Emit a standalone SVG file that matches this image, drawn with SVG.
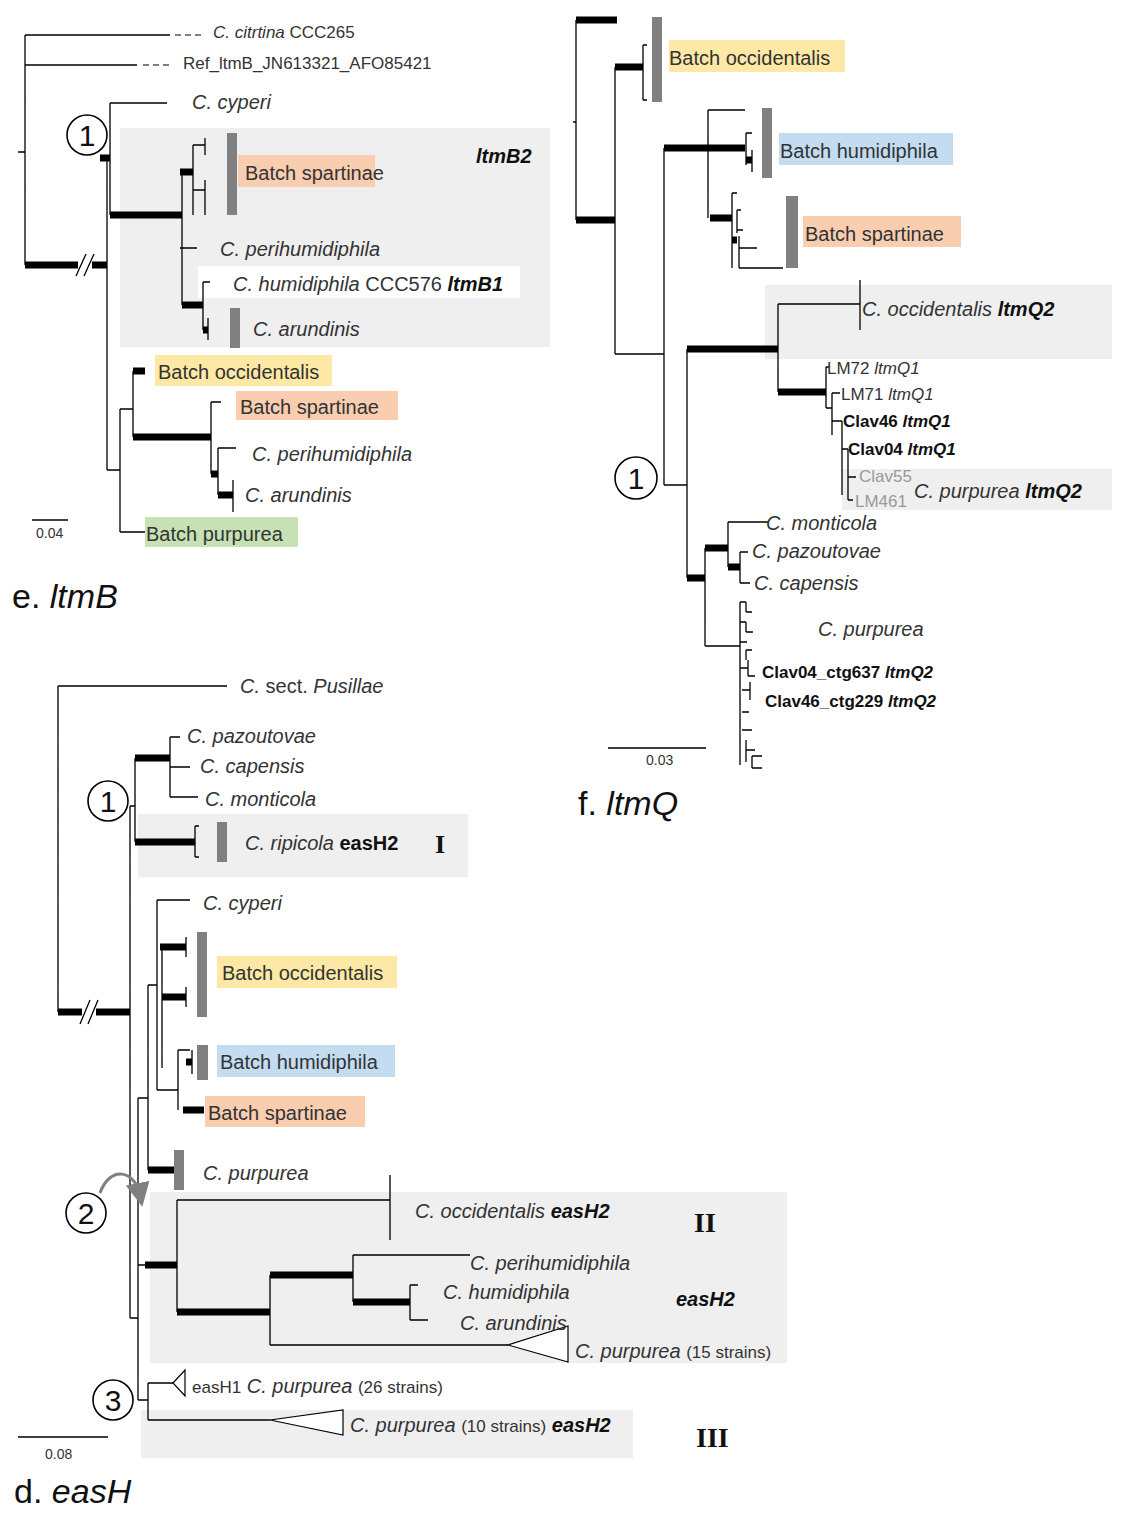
<svg xmlns="http://www.w3.org/2000/svg" width="1124" height="1516" viewBox="0 0 1124 1516">
<style>
text{font-family:"Liberation Sans",Arial,sans-serif;fill:#333}
.t{font-size:20px}
.s{font-size:17px}
.i{font-style:italic}
.b{font-weight:bold;fill:#111}
.g{fill:#999}
.ln{stroke:#000;stroke-width:1.3;fill:none}
.th{stroke:#000;stroke-width:7;fill:none}
.bar{fill:#808080}
.box{fill:#efefef}
.or{fill:#f9cdb0}.ye{fill:#fde9a5}.bl{fill:#c4dcf0}.gr{fill:#c6e2b5}
.dash{stroke:#000;stroke-width:1.2;stroke-dasharray:6 4}
.circ{fill:#fff;stroke:#000;stroke-width:1.6}
.cn{font-size:30px;fill:#111;text-anchor:middle}
.ttl{font-size:34px;fill:#111}
.tri{fill:#fff;stroke:#000;stroke-width:1.2}
</style>
<defs>
<marker id="ah" markerWidth="8" markerHeight="8" refX="4" refY="4" orient="auto"><path d="M0,0 L8,4 L0,8 Z" fill="#808080"/></marker>
</defs>

<!-- backgrounds -->
<g id="backgrounds">
<rect class="box" x="120" y="128" width="430" height="219"/>
<rect fill="#fff" x="198" y="266" width="322" height="32"/>
<rect class="or" x="238" y="155" width="137" height="32"/>
<rect class="ye" x="155" y="355" width="177" height="31"/>
<rect class="or" x="236" y="391" width="162" height="29"/>
<rect class="gr" x="145" y="517" width="153" height="30"/>
<rect class="ye" x="669" y="40" width="176" height="32"/>
<rect class="bl" x="779" y="133" width="174" height="32"/>
<rect class="or" x="803" y="216" width="158" height="31"/>
<rect class="box" x="765" y="285" width="347" height="74"/>
<rect class="box" x="842" y="469" width="270" height="41"/>
<rect class="box" x="138" y="814" width="330" height="63"/>
<rect class="ye" x="217" y="956" width="180" height="32"/>
<rect class="bl" x="217" y="1045" width="178" height="32"/>
<rect class="or" x="205" y="1096" width="160" height="31"/>
<rect class="box" x="150" y="1192" width="637" height="171"/>
<rect class="box" x="141" y="1410" width="492" height="48"/>
</g>

<g id="connectors">
<!-- e ltmB -->
<path class="ln" d="M18,152H25 M25,35V265 M25,35H170 M25,65H137 M107,158V470 M110,103V215 M110,103H167 M182,172V305 M180,248H197 M193,145V215 M193,145H205 M205,138V155 M193,190H205 M205,180V215 M203,282V330 M203,282H210 M208,318V340 M107,470H120 M120,409V532 M120,409H133 M133,371V437 M211,402V474 M211,402H221 M218,448V495 M218,448H236 M233,480V512 M120,532H145"/>
<path class="dash" d="M175,35H205 M143,65H170"/>
<path class="th" d="M25,265H78 M92,265H107 M100,158H110 M110,215H182 M180,172H193 M182,305H203 M203,330H208 M133,371H145 M133,437H211 M211,474H218 M218,495H233"/>
<path class="ln" d="M76,276L86,254 M84,276L94,254"/>
<!-- f ltmQ -->
<path class="ln" d="M573,122H576 M576,20V220 M615,67V354 M643,45V100 M643,45H647 M643,100H647 M615,354H664 M664,148V485 M708,110V218 M708,110H745 M746,133V165 M746,133H752 M752,150V172 M732,193V268 M732,193H737 M737,210V233 M737,210H741 M737,230H743 M739,248H757 M739,268H783 M739,236V268 M664,485H687 M687,349V578 M778,304V392 M778,304H860 M860,280V330 M826,367V408 M826,367H829 M826,408H832 M832,393V435 M832,393H840 M832,421H842 M842,421V495 M842,449H848 M848,449V500 M848,477H856 M848,500H853 M705,548V646 M728,522V567 M728,522H768 M740,552V583 M740,552H748 M740,583H750 M705,646H740 M740,602V765 M740,602H746 M746,602V612 M746,612H752 M740,622H746 M746,622V632 M746,632H753 M740,642H747 M746,650V660 M746,650H752 M740,668H748 M748,660V676 M748,676H755 M742,690H750 M750,682V700 M742,712H749 M742,730H752 M746,740V762 M746,750H755 M752,756V768 M752,756H762 M752,768H762"/>
<path class="th" d="M576,20H617 M576,220H615 M615,67H643 M664,148H745 M746,160H752 M710,218H732 M732,240H737 M687,349H778 M778,392H826 M687,578H705 M705,548H728 M728,567H740"/>
<!-- d easH -->
<path class="ln" d="M58,686V1012 M58,686H227 M130,806V1318 M130,806H135 M135,758V842 M170,737V797 M170,737H180 M170,767H190 M170,797H198 M195,826V857 M195,826H199 M195,857H199 M130,1318H138 M138,1098V1400 M138,1098H148 M148,985V1170 M148,985H157 M157,900V1090 M157,900H190 M162,947V1068 M186,937V957 M186,987V1007 M157,1090H178 M178,1050V1110 M178,1050H190 M192,1050V1074 M138,1265H145 M177,1200V1312 M177,1200H390 M390,1175V1240 M270,1275V1345 M353,1255V1302 M353,1255H470 M410,1285V1320 M410,1285H418 M410,1320H428 M270,1345H508 M148,1383V1420 M148,1383H173 M138,1400H148 M148,1420H270"/>
<path class="th" d="M58,1012H82 M96,1012H130 M135,758H170 M135,842H195 M160,947H186 M162,997H186 M186,1062H192 M183,1110H204 M148,1170H175 M145,1265H177 M177,1312H270 M270,1275H353 M353,1302H410"/>
<path class="ln" d="M80,1024L90,1000 M88,1024L98,1000"/>
<path d="M100,1193 C110,1165 135,1170 140,1195" stroke="#808080" stroke-width="3" fill="none" marker-end="url(#ah)"/>
<!-- scale bars -->
<path class="ln" d="M32,520H68 M608,748H706 M18,1437H108"/>
</g>

<g id="bars">
<rect class="bar" x="227" y="133" width="10" height="82"/>
<rect class="bar" x="230" y="308" width="10" height="40"/>
<rect class="bar" x="652" y="17" width="10" height="85"/>
<rect class="bar" x="762" y="108" width="10" height="70"/>
<rect class="bar" x="786" y="196" width="12" height="72"/>
<rect class="bar" x="217" y="822" width="10" height="40"/>
<rect class="bar" x="197" y="932" width="10" height="85"/>
<rect class="bar" x="197" y="1045" width="11" height="35"/>
<rect class="bar" x="174" y="1150" width="10" height="40"/>
<path class="tri" d="M508,1345L568,1326V1362Z"/>
<path class="tri" d="M173,1383L185,1370V1396Z"/>
<path class="tri" d="M270,1420L343,1410V1435Z"/>
</g>

<g id="circles">
<circle class="circ" cx="87" cy="135" r="20"/><text class="cn" x="87" y="146">1</text>
<circle class="circ" cx="636" cy="478" r="21"/><text class="cn" x="636" y="489">1</text>
<circle class="circ" cx="108" cy="801" r="20"/><text class="cn" x="108" y="812">1</text>
<circle class="circ" cx="86" cy="1213" r="20"/><text class="cn" x="86" y="1224">2</text>
<circle class="circ" cx="113" cy="1400" r="20"/><text class="cn" x="113" y="1411">3</text>
</g>

<g id="labels-e">
<text class="s" x="213" y="38"><tspan class="i">C. citrtina</tspan> CCC265</text>
<text class="s" x="183" y="69">Ref_ltmB_JN613321_AFO85421</text>
<text class="t i" x="192" y="109">C. cyperi</text>
<text class="t b i" x="476" y="163">ltmB2</text>
<text class="t" x="245" y="180">Batch spartinae</text>
<text class="t i" x="220" y="256">C. perihumidiphila</text>
<text class="t" x="233" y="291"><tspan class="i">C. humidiphila</tspan> CCC576 <tspan class="b i">ltmB1</tspan></text>
<text class="t i" x="253" y="336">C. arundinis</text>
<text class="t" x="158" y="379">Batch occidentalis</text>
<text class="t" x="240" y="414">Batch spartinae</text>
<text class="t i" x="252" y="461">C. perihumidiphila</text>
<text class="t i" x="245" y="502">C. arundinis</text>
<text class="t" x="146" y="541">Batch purpurea</text>
<text style="font-size:14px" x="36" y="538">0.04</text>
<text class="ttl" x="12" y="608">e. <tspan class="i">ltmB</tspan></text>
</g>

<g id="labels-f">
<text class="t" x="669" y="65">Batch occidentalis</text>
<text class="t" x="780" y="158">Batch humidiphila</text>
<text class="t" x="805" y="241">Batch spartinae</text>
<text class="t" x="862" y="316"><tspan class="i">C. occidentalis</tspan> <tspan class="b i">ltmQ2</tspan></text>
<text class="s" x="827" y="374">LM72 <tspan class="i">ltmQ1</tspan></text>
<text class="s" x="841" y="400">LM71 <tspan class="i">ltmQ1</tspan></text>
<text class="s b" x="843" y="427">Clav46 <tspan class="i">ltmQ1</tspan></text>
<text class="s b" x="848" y="455">Clav04 <tspan class="i">ltmQ1</tspan></text>
<text class="s g" x="859" y="482">Clav55</text>
<text class="s g" x="855" y="507">LM461</text>
<text class="t" x="914" y="498"><tspan class="i">C. purpurea</tspan> <tspan class="b i">ltmQ2</tspan></text>
<text class="t i" x="766" y="530">C. monticola</text>
<text class="t i" x="752" y="558">C. pazoutovae</text>
<text class="t i" x="754" y="590">C. capensis</text>
<text class="t i" x="818" y="636">C. purpurea</text>
<text class="s b" x="762" y="678">Clav04_ctg637 <tspan class="i">ltmQ2</tspan></text>
<text class="s b" x="765" y="707">Clav46_ctg229 <tspan class="i">ltmQ2</tspan></text>
<text style="font-size:14px" x="646" y="765">0.03</text>
<text class="ttl" x="578" y="815">f. <tspan class="i">ltmQ</tspan></text>
</g>

<g id="labels-d">
<text class="t" x="240" y="693"><tspan class="i">C.</tspan> sect. <tspan class="i">Pusillae</tspan></text>
<text class="t i" x="187" y="743">C. pazoutovae</text>
<text class="t i" x="200" y="773">C. capensis</text>
<text class="t i" x="205" y="806">C. monticola</text>
<text class="t" x="245" y="850"><tspan class="i">C. ripicola</tspan> <tspan class="b">easH2</tspan></text>
<text style="font-size:26px;font-weight:bold;fill:#111;font-family:'Liberation Serif',serif" x="435" y="853">I</text>
<text class="t i" x="203" y="910">C. cyperi</text>
<text class="t" x="222" y="980">Batch occidentalis</text>
<text class="t" x="220" y="1069">Batch humidiphila</text>
<text class="t" x="208" y="1120">Batch spartinae</text>
<text class="t i" x="203" y="1180">C. purpurea</text>
<text class="t" x="415" y="1218"><tspan class="i">C. occidentalis</tspan> <tspan class="b i">easH2</tspan></text>
<text style="font-size:28px;font-weight:bold;fill:#111;font-family:'Liberation Serif',serif" x="694" y="1232">II</text>
<text class="t i" x="470" y="1270">C. perihumidiphila</text>
<text class="t i" x="443" y="1299">C. humidiphila</text>
<text class="t b i" x="676" y="1306">easH2</text>
<text class="t i" x="460" y="1330">C. arundinis</text>
<text class="t" x="575" y="1358"><tspan class="i">C. purpurea</tspan> <tspan class="s">(15  strains)</tspan></text>
<text class="t" x="192" y="1393"><tspan class="s">easH1</tspan> <tspan class="i">C. purpurea</tspan> <tspan class="s">(26 strains)</tspan></text>
<text class="t" x="350" y="1432"><tspan class="i">C. purpurea</tspan> <tspan class="s">(10 strains)</tspan> <tspan class="b i">easH2</tspan></text>
<text style="font-size:28px;font-weight:bold;fill:#111;font-family:'Liberation Serif',serif" x="696" y="1447">III</text>
<text style="font-size:14px" x="45" y="1459">0.08</text>
<text class="ttl" x="14" y="1503">d. <tspan class="i">easH</tspan></text>
</g>
</svg>
